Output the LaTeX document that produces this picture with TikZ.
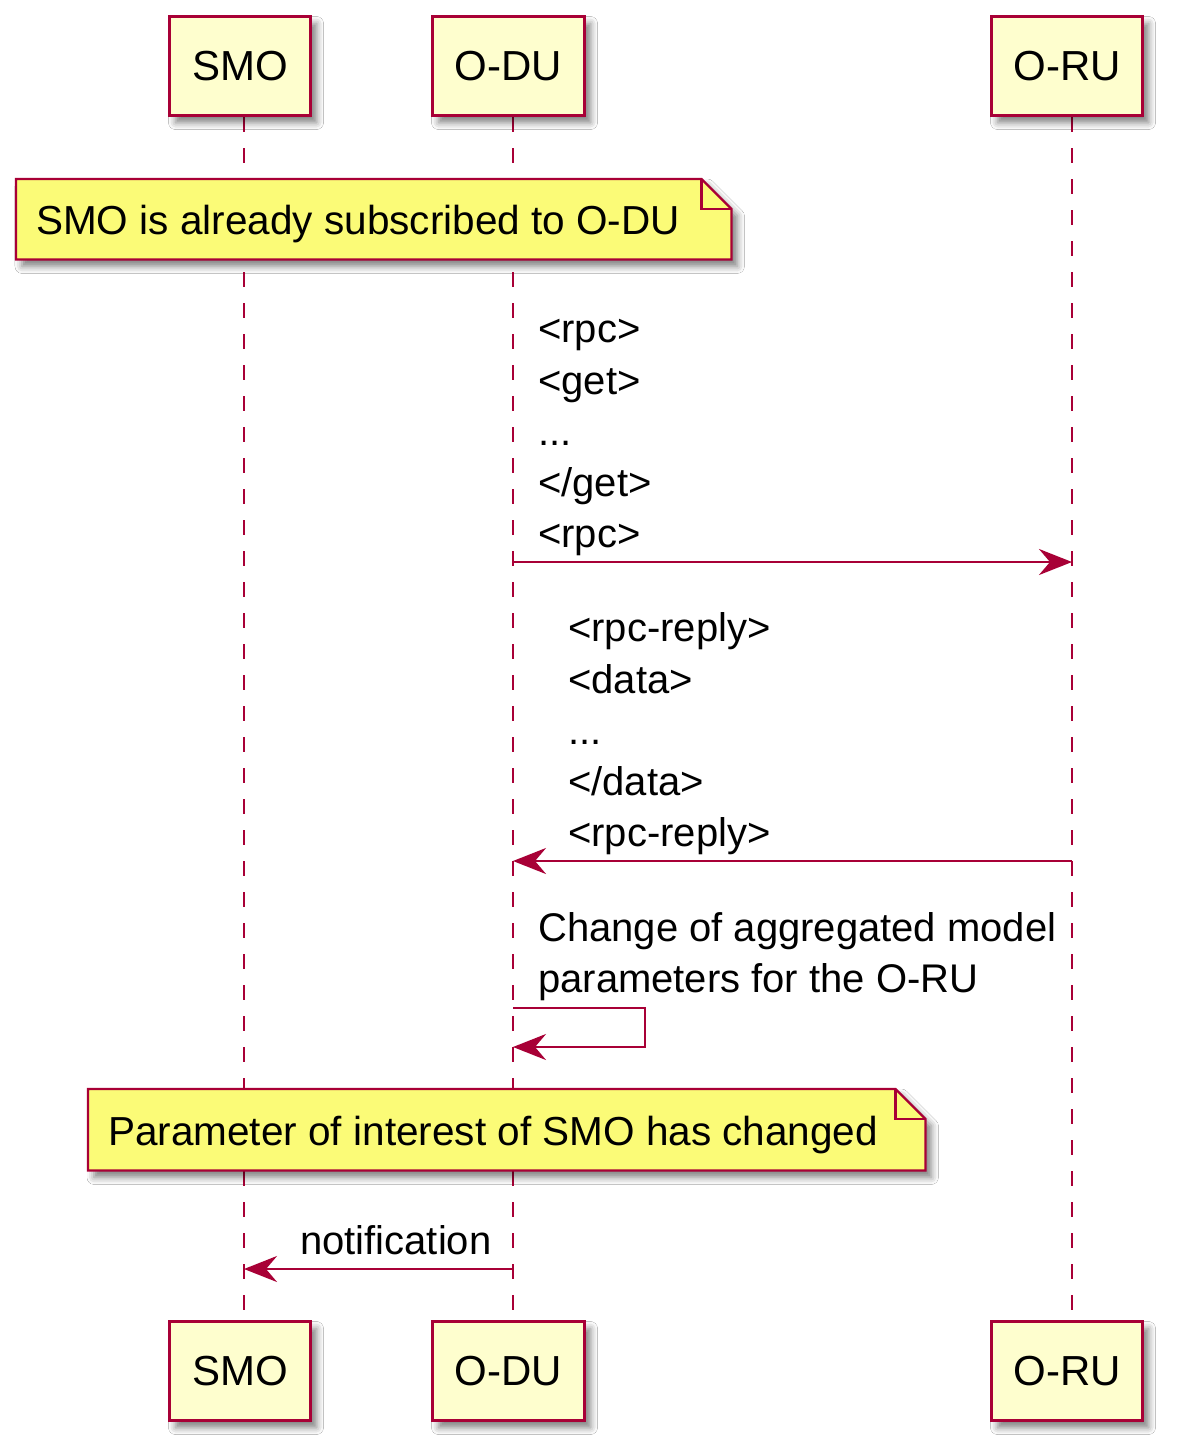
\documentclass[tikz,border=0pt]{standalone}
\usepackage{fontspec}
\setmainfont{Liberation Sans}
\usetikzlibrary{shadows.blur,arrows.meta,calc}
\definecolor{umlred}{HTML}{A80036}
\definecolor{partfill}{HTML}{FEFECE}
\definecolor{notefill}{HTML}{FBFB77}
\tikzset{
  shad/.style={blur shadow={shadow xshift=6pt,shadow yshift=-7pt,shadow blur radius=7pt,shadow opacity=50}},
  part/.style={draw=umlred,fill=partfill,line width=3.4pt,inner sep=0pt,shad,
    font=\fontsize{42}{50}\selectfont},
  lifeline/.style={draw=umlred,line width=2.6pt,dash pattern=on 15pt off 16pt},
  notearea/.style={inner sep=0pt,anchor=north west},
  noteshape/.style={draw=umlred,fill=notefill,line width=2.3pt,line join=miter,shad},
  notefold/.style={draw=umlred,line width=2.3pt},
  notetext/.style={inner sep=0pt,anchor=west,font=\fontsize{40.5}{48}\selectfont},
  msg/.style={draw=umlred,line width=2.8pt,-{Stealth[length=33pt,width=26pt,inset=11pt]}},
  msgtext/.style={inner sep=0pt,align=left,font=\fontsize{40}{51.25}\selectfont},
}
\begin{document}
\begin{tikzpicture}[x=1pt,y=-1pt]
\useasboundingbox[fill=white] (0,0) rectangle (1176,1454);
% lifelines
\coordinate (smoTop) at (244,117);
\coordinate (smoBot) at (244,1320);
\coordinate (oduTop) at (513,117);
\coordinate (oduBot) at (513,1320);
\coordinate (oruTop) at (1072,117);
\coordinate (oruBot) at (1072,1320);
\draw[lifeline] (smoTop) -- (smoBot);
\draw[lifeline] (oduTop) -- (oduBot);
\draw[lifeline] (oruTop) -- (oruBot);
% participants
\node[part,minimum width=141pt,minimum height=99pt] (smoT) at (240,66) {SMO};
\node[part,minimum width=152pt,minimum height=99pt] (oduT) at (508.5,66) {O-DU};
\node[part,minimum width=151pt,minimum height=99pt] (oruT) at (1067,66) {O-RU};
\node[part,minimum width=141pt,minimum height=99pt] (smoB) at (240,1371) {SMO};
\node[part,minimum width=152pt,minimum height=99pt] (oduB) at (508.5,1371) {O-DU};
\node[part,minimum width=151pt,minimum height=99pt] (oruB) at (1067,1371) {O-RU};
% note 1
\node[notearea,minimum width=715pt,minimum height=80pt] (n1) at (16,179) {};
\path[noteshape] (n1.north west) -- ($(n1.north east)+(-30,0)$) -- ($(n1.north east)+(0,30)$)
  -- (n1.south east) -- (n1.south west) -- cycle;
\draw[notefold] ($(n1.north east)+(-30,0)$) -- ($(n1.north east)+(-30,30)$) -- ($(n1.north east)+(0,30)$);
\node[notetext] (n1t) at ($(n1.west)+(20,5)$) {SMO is already subscribed to O-DU};
% message 1
\coordinate (m1s) at (513,562);
\coordinate (m1e) at (1072,562);
\draw[msg] (m1s) -- (m1e);
\node[msgtext,anchor=south west] (m1t) at (538,556.4) {<rpc>\\<get>\\...\\</get>\\<rpc>};
% message 2
\coordinate (m2s) at (1072,861);
\coordinate (m2e) at (513,861);
\draw[msg] (m2s) -- (m2e);
\node[msgtext,anchor=south west] (m2t) at (568,855.4) {<rpc-reply>\\<data>\\...\\</data>\\<rpc-reply>};
% self message
\coordinate (m3s) at (513,1008);
\coordinate (m3e) at (513,1047);
\draw[msg] (m3s) -- ++(132,0) |- (m3e);
\node[msgtext,anchor=south west] (m3t) at (538,1001.4) {Change of aggregated model\\parameters for the O-RU};
% note 2
\node[notearea,minimum width=837pt,minimum height=81pt] (n2) at (88,1089) {};
\path[noteshape] (n2.north west) -- ($(n2.north east)+(-30,0)$) -- ($(n2.north east)+(0,30)$)
  -- (n2.south east) -- (n2.south west) -- cycle;
\draw[notefold] ($(n2.north east)+(-30,0)$) -- ($(n2.north east)+(-30,30)$) -- ($(n2.north east)+(0,30)$);
\node[notetext] (n2t) at ($(n2.west)+(20,5)$) {Parameter of interest of SMO has changed};
% notification
\coordinate (m4s) at (513,1269);
\coordinate (m4e) at (244,1269);
\draw[msg] (m4s) -- (m4e);
\node[msgtext,anchor=base west] (m4t) at (300,1254) {notification};
\end{tikzpicture}
\end{document}
